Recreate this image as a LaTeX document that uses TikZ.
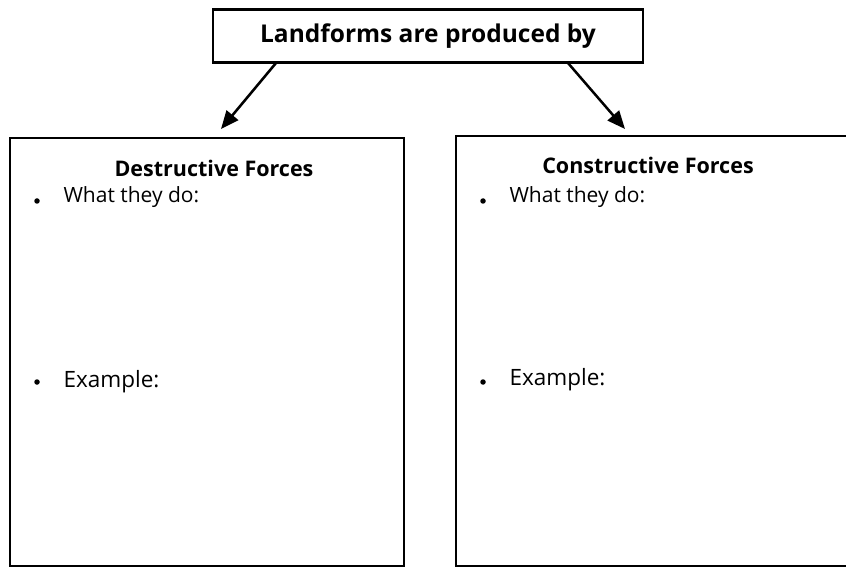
\documentclass[tikz,border=0pt]{standalone}
\usepackage{fontspec}
\setmainfont{Open Sans}
\usetikzlibrary{arrows.meta}
\begin{document}
\begin{tikzpicture}[x=1pt,y=-1pt,
  frame/.style={draw=black,line width=2.3pt},
  conn/.style={line width=2.5pt,-{Triangle[length=18pt,width=15pt]}},
  head/.style={font=\bfseries\fontsize{21.5}{24}\selectfont,anchor=center},
  item/.style={font=\fontsize{21}{24}\selectfont,anchor=west},
  item2/.style={font=\fontsize{22.5}{26}\selectfont,anchor=west},
  dot/.style={circle,fill=black,inner sep=0pt,minimum size=5.5pt}]
\useasboundingbox (0,0) rectangle (846,569);
\fill[white] (0,0) rectangle (846,569);
% top box
\node[frame,minimum width=430pt,minimum height=53pt,inner sep=0pt] (top) at (428,36)
  {\bfseries\fontsize{24.5}{28}\selectfont Landforms are produced by};
% boxes
\draw[frame] (10,138) rectangle (404,566);
\draw[frame] (456,136) rectangle (852,566);
\coordinate (ltip) at (221,129);
\coordinate (rtip) at (625,129);
\coordinate (lstart) at (276,63);
\coordinate (rstart) at (568,63);
\draw[conn] (lstart) -- (ltip);
\draw[conn] (rstart) -- (rtip);
% left
\node[head] (dhead) at (214,168) {Destructive Forces};
\node[dot] (d1) at (37,201) {};
\node[item] (dw) at (60,197) {What they do:};
\node[dot] (d2) at (37,382) {};
\node[item2] (de) at (60,382) {Example:};
% right
\node[head] (chead) at (648,165) {Constructive Forces};
\node[dot] (c1) at (483,201) {};
\node[item] (cw) at (506,197) {What they do:};
\node[dot] (c2) at (483,382) {};
\node[item2] (ce) at (506,380) {Example:};
\end{tikzpicture}
\end{document}
